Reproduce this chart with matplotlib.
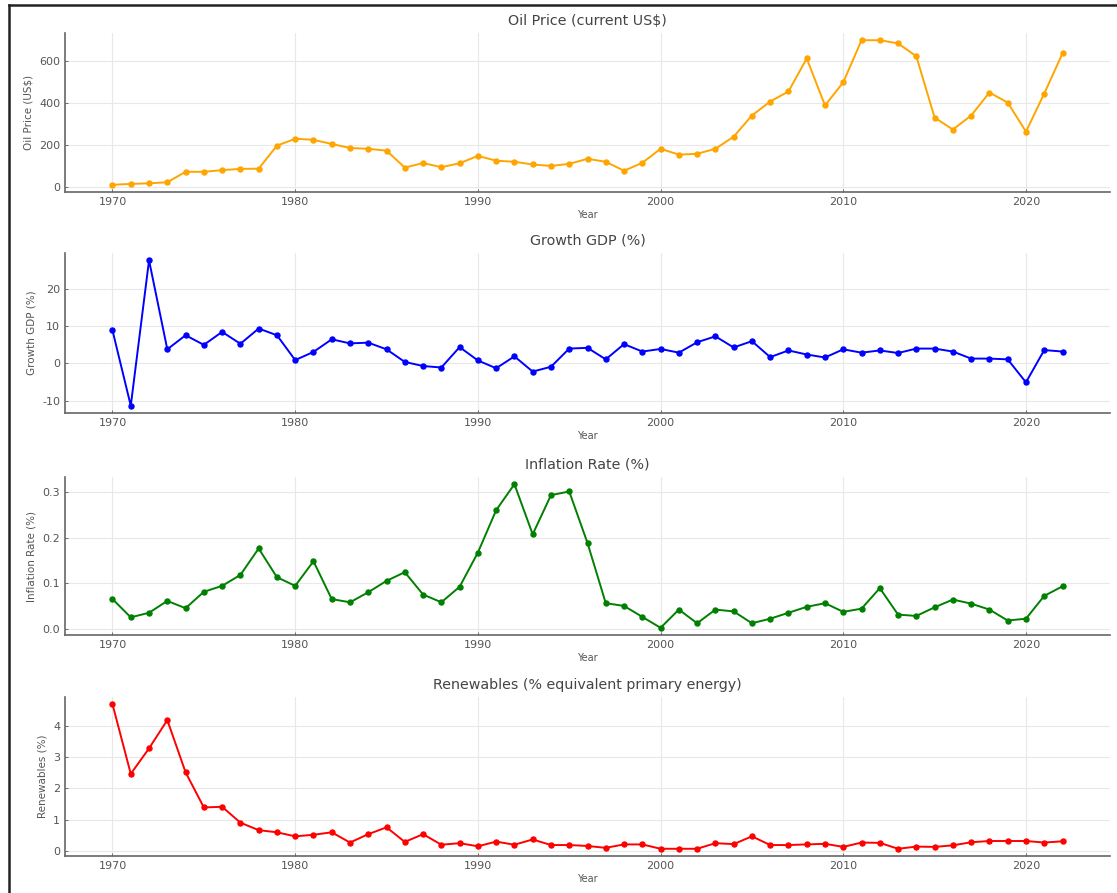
import matplotlib
matplotlib.use("Agg")
import matplotlib.pyplot as plt
from matplotlib.lines import Line2D
from matplotlib.ticker import MultipleLocator, FormatStrFormatter

years = list(range(1970, 2023))

oil_price = [10, 14, 17, 22, 72, 72, 80, 86, 87, 197,
             230, 225, 205, 186, 182, 173, 92, 114, 94, 113,
             148, 125, 120, 107, 100, 110, 134, 120, 77, 115,
             182, 154, 158, 182, 240, 341, 408, 456, 614, 389,
             500, 701, 701, 686, 624, 331, 274, 341, 451, 403,
             264, 446, 638]

gdp_growth = [8.9, -11.4, 27.8, 3.8, 7.6, 5.0, 8.5, 5.3, 9.4, 7.6,
              0.9, 3.1, 6.5, 5.4, 5.6, 3.8, 0.4, -0.7, -1.1, 4.4,
              0.8, -1.3, 1.9, -2.2, -0.9, 4.0, 4.2, 1.1, 5.2, 3.2,
              3.9, 2.9, 5.7, 7.3, 4.3, 6.0, 1.7, 3.5, 2.4, 1.6,
              3.8, 2.9, 3.5, 2.8, 4.0, 4.0, 3.2, 1.3, 1.3, 1.1,
              -5.1, 3.6, 3.2]

inflation = [0.065, 0.025, 0.035, 0.061, 0.045, 0.081, 0.094, 0.118, 0.176, 0.113,
             0.094, 0.148, 0.065, 0.058, 0.080, 0.105, 0.124, 0.075, 0.058, 0.092,
             0.167, 0.260, 0.317, 0.207, 0.293, 0.301, 0.188, 0.056, 0.050, 0.026,
             0.002, 0.042, 0.012, 0.042, 0.038, 0.012, 0.022, 0.035, 0.048, 0.056,
             0.037, 0.044, 0.089, 0.031, 0.028, 0.047, 0.064, 0.055, 0.042, 0.018,
             0.022, 0.072, 0.093]

renewables = [4.71, 2.47, 3.29, 4.20, 2.52, 1.39, 1.41, 0.90, 0.66, 0.59,
              0.46, 0.51, 0.59, 0.26, 0.53, 0.75, 0.28, 0.53, 0.19, 0.24,
              0.14, 0.29, 0.19, 0.36, 0.18, 0.18, 0.15, 0.09, 0.20, 0.20,
              0.06, 0.06, 0.06, 0.24, 0.21, 0.46, 0.18, 0.18, 0.20, 0.22,
              0.12, 0.26, 0.25, 0.06, 0.13, 0.12, 0.17, 0.27, 0.31, 0.31,
              0.31, 0.26, 0.30]

titles = ["Oil Price (current US$)", "Growth GDP (%)", "Inflation Rate (%)",
          "Renewables (% equivalent primary energy)"]
ylabels = ["Oil Price (US$)", "Growth GDP (%)", "Inflation Rate (%)", "Renewables (%)"]
colors = ["orange", "blue", "green", "red"]
series = [oil_price, gdp_growth, inflation, renewables]
ytick_steps = [200, 10, 0.1, 1]
ytick_formats = ["%d", "%d", "%.1f", "%d"]
xticks = [1970, 1980, 1990, 2000, 2010, 2020]

W, H = 1117, 893
fig = plt.figure(figsize=(W / 100, H / 100), dpi=100)

tops = [33, 253, 477, 697]
bottoms = [192, 413, 635, 856]
left, right = 65, 1110

text_col = "#555555"
for i in range(4):
    ax = fig.add_axes([left / W, 1 - bottoms[i] / H, (right - left) / W, (bottoms[i] - tops[i]) / H])
    ax.plot(years, series[i], color=colors[i], marker="o", markersize=3.6, linewidth=1.4)
    ax.set_title(titles[i], fontsize=10.3, color="#444444", pad=6)
    ax.set_xlabel("Year", fontsize=7, color=text_col, labelpad=2)
    ax.set_ylabel(ylabels[i], fontsize=7.5, color=text_col, labelpad=4)
    ax.grid(True, color="#e8e8e8", linewidth=0.8)
    ax.set_axisbelow(True)
    for s in ["top", "right"]:
        ax.spines[s].set_visible(False)
    for s in ["left", "bottom"]:
        ax.spines[s].set_color("#666666")
        ax.spines[s].set_linewidth(1.2)
    ax.tick_params(axis="both", labelsize=8, colors=text_col, direction="in", length=2, width=0.6)
    ax.set_xticks(xticks)
    ax.yaxis.set_major_locator(MultipleLocator(ytick_steps[i]))
    ax.yaxis.set_major_formatter(FormatStrFormatter(ytick_formats[i]))

# screenshot frame
fig.add_artist(Line2D([9 / W, 1], [1 - 5 / H, 1 - 5 / H], transform=fig.transFigure, color="#222222", linewidth=1.8))
fig.add_artist(Line2D([9 / W, 9 / W], [0, 1 - 5 / H], transform=fig.transFigure, color="#222222", linewidth=1.8))

fig.savefig("out.png", dpi=100)
